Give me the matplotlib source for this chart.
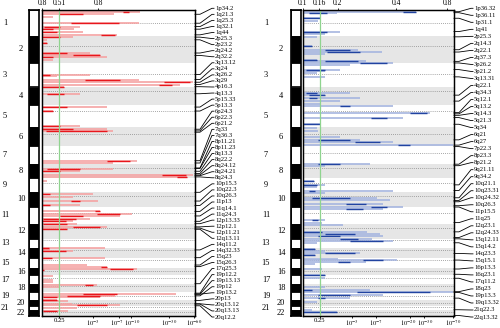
import numpy as np
import matplotlib.pyplot as plt
from matplotlib.lines import Line2D
from matplotlib.transforms import blended_transform_factory, ScaledTranslation

plt.rcParams['font.family'] = ['Liberation Serif', 'DejaVu Serif']
plt.rcParams['mathtext.fontset'] = 'stix'

W, H = 500, 328

# chromosome display lengths and centromere position (fraction of length)
chrom_len = [260, 270, 240, 190, 220, 190, 180, 140, 140, 150, 170,
             150, 100, 100, 100, 70, 90, 80, 80, 60, 40, 60]
centro_frac = [0.50, 0.38, 0.46, 0.26, 0.27, 0.35, 0.38, 0.31, 0.35, 0.30, 0.40,
               0.27, 0.16, 0.16, 0.18, 0.41, 0.30, 0.22, 0.45, 0.44, 0.27, 0.29]

# ---- left panel (red): chromosome, position, -log10 p, darker part
red_chrom = [1, 1, 1, 1, 1, 1, 1, 1, 2, 2, 2, 2, 2, 2, 2, 3, 3, 3, 3, 3, 4, 4,
             5, 5, 5, 6, 6, 7, 7, 8, 8, 8, 8, 9, 10, 10, 10, 10, 11, 11, 11, 11, 11,
             12, 12, 12, 13, 14, 14, 14, 15, 15, 16, 16, 17, 17, 17, 18, 18,
             19, 19, 19, 19, 20, 20, 20, 21, 22]
red_pos = [23, 43, 67, 133, 167, 193, 217, 250, 13, 40, 70, 173, 197, 217, 240,
           120, 137, 170, 197, 220, 2, 73, 17, 57, 207, 20, 37, 147, 170, 50, 73,
           110, 130, 27, 20, 53, 93, 137, 47, 70, 93, 120, 147, 1, 33, 57, 93, 15,
           30, 93, 67, 83, 3, 17, 10, 47, 70, 10, 33, 20, 37, 53, 77, 13, 37, 53, 17, 13]
red_top = [13.2, 6, 0.36, 13, 1.8, 1.4, 2.0, 6.6, 1.34, 0.14, 0.14, 2.7, 3.8, 4.8,
           0.36, 2.7, 0.5, 13, 59, 41, 0.8, 1.8, 4.8, 0.36, 1.8, 4.8, 5.8, 12, 5.8,
           5.8, 1.8, 59, 50, 0.14, 3, 1.34, 3.5, 1.8, 3.8, 10.4, 7.3, 2.7, 1.3, 1.6,
           4.8, 0.95, 4.5, 0.24, 1.3, 4.5, 2.4, 4.8, 12, 0.05, 0.35, 0.33, 0.33,
           3.4, 0.63, 37, 6.2, 3.8, 0.5, 1.0, 1.25, 7.3, 1.6, 1.0]
red_lo = [8, 0.6, 0, 1.2, 0.07, 0, 0, 4, 0, 0, 0, 0, 1.3, 0, 0, 0, 0, 2.2, 26, 23,
          0, 0.14, 0, 0, 0, 0, 0.1, 4.8, 0, 0.14, 0, 25, 38, 0, 0, 0, 1.2, 0, 3.2,
          3.4, 0.63, 0.03, 0, 0.03, 1.3, 0, 0, 0, 0, 0, 0, 4, 5.3, 0, 0, 0, 0, 2.2,
          0, 2, 0.95, 0.03, 0, 0, 0, 1.6, 0, 0.03]
red_hi = [9.5, 2, 0, 7, 0.63, 0.36, 0.5, 6.3, 0.63, 0, 0.14, 0.95, 3.8, 0.36, 0,
          0.25, 0, 7.3, 54, 33, 0.8, 0.8, 0.95, 0.36, 0.63, 1.34, 4.8, 9.8, 0, 1.8,
          0.63, 49, 50, 0, 0.25, 0, 1.8, 0.25, 3.8, 7.3, 2, 1.5, 0.9, 0.95, 3.8,
          0.95, 0.2, 0, 0.9, 0.3, 0, 4.8, 10.8, 0.05, 0, 0, 0, 3, 0, 6.6, 3.8, 0.5,
          0.5, 0, 0, 4.8, 0, 0.5]
red_bottom_p = [0.25, 1e-3, 1e-7, 1e-10, 1e-30, 1e-60]
red_bottom_lab = ['0.25', r'$10^{-3}$', r'$10^{-7}$', r'$10^{-10}$', r'$10^{-30}$', r'$10^{-60}$']
red_bottom_nudge = [0, 0, -1.2, 1.2, 0, 0]
red_top_at = [0, 0.6, 3.56]
red_top_lab = ['0.8', '0.51', '0.8']
red_loci = ['1p34.2', '1q21.3', '1q25.3', '1q32.1', '1q44', '2p25.3', '2p23.2', '2q24.2',
            '2q32.2', '3q13.12', '3q24', '3q26.2', '3q29', '4p16.3', '4q13.3', '5p15.33',
            '5p13.3', '6p24.3', '6p22.3', '6p21.2', '7q33', '7q36.3', '8p11.21', '8p11.23',
            '8q13.3', '8q22.2', '8q24.12', '8q24.21', '8q24.3', '10p15.3', '10q22.3',
            '10q26.3', '11p13', '11q14.1', '11q24.3', '12p13.33', '12p12.1', '12p11.21',
            '12q13.11', '14q11.2', '14q32.33', '15q23', '15q26.3', '17q25.3', '19p12.2',
            '19p13.13', '19p12', '19p13.2', '20p13', '20q13.12', '20q13.13', '20q12.2']
red_locus_chrom = [1, 1, 1, 1, 1, 2, 2, 2, 2, 3, 3, 3, 3, 4, 4, 5, 5, 6, 6, 6, 7, 7, 8, 8,
                   8, 8, 8, 8, 8, 10, 10, 10, 11, 11, 11, 12, 12, 12, 12, 14, 14, 15, 15,
                   17, 19, 19, 19, 19, 20, 20, 20, 20]
red_locus_pos = [43, 133, 167, 193, 250, 13, 40, 173, 197, 120, 170, 197, 220, 2, 73, 17,
                 57, 20, 37, 50, 147, 170, 40, 45, 73, 95, 110, 118, 130, 5, 93, 137, 47,
                 93, 147, 1, 33, 45, 57, 15, 93, 67, 83, 85, 10, 20, 37, 20, 3, 37, 40, 57]

# ---- right panel (blue)
blue_chrom = [1, 1, 1, 1, 1, 1, 2, 2, 2, 2, 2, 2, 2, 3, 3, 3, 3, 3, 3, 4, 4, 4, 4, 4,
              5, 5, 5, 5, 6, 6, 6, 6, 6, 6, 8, 8, 9, 9, 9, 9, 10, 10, 10, 10, 11, 11,
              11, 11, 12, 12, 12, 12, 13, 13, 13, 14, 14, 14, 14, 15, 15, 15, 15, 16,
              16, 17, 18, 18, 19, 19, 19, 20, 21, 22]
blue_pos = [17, 27, 83, 107, 217, 240, 10, 107, 140, 163, 183, 240, 257, 3, 27, 70,
            87, 103, 143, 63, 87, 113, 147, 180, 7, 73, 123, 190, 3, 37, 103, 127,
            153, 180, 2, 17, 27, 70, 93, 127, 13, 60, 87, 120, 3, 20, 137, 160, 10,
            83, 107, 127, 1, 23, 43, 2, 27, 50, 67, 2, 17, 33, 60, 7, 67, 30, 30, 57,
            3, 27, 60, 23, 37, 20]
blue_top = [24, 1.6, 0.62, 0.55, 1.86, 0.85, 0.47, 0.3, 3.8, 8.4, 0.85, 0.5, 5, 11.9,
            2.8, 1.9, 0.85, 0.47, 0.85, 2.8, 0.85, 4.1, 1.9, 0.6, 12, 36, 16, 0.6,
            0.47, 0.55, 1.9, 4, 12, 70, 5.7, 0.85, 0.35, 0.85, 0.47, 12, 0.85, 7.2,
            10.9, 8.7, 16, 8.7, 0.85, 0.7, 2.1, 5.2, 7.9, 8.7, 6.2, 12, 0.5, 0.4,
            0.85, 4, 0.4, 1.7, 13.4, 5, 0.4, 0.7, 0.85, 0.85, 0.85, 5.7, 70, 8.7, 2.8,
            0.47, 0.3, 1.6]
blue_lo = [16, 0.2, 0, 0, 0, 0, 0, 0, 0.85, 1, 0, 0, 0.85, 4, 0, 0.1, 0, 0, 0, 0.1,
           0.2, 0.2, 0, 0, 1.9, 20, 6, 0, 0, 0, 0, 0.55, 3.4, 14, 0.55, 0, 0, 0, 0,
           0.2, 0, 0.3, 0, 2.4, 6, 2.4, 0.3, 0, 0, 0, 0.85, 0.55, 1.9, 2.8, 0, 0, 0,
           0.85, 0, 0, 4.5, 1.7, 0, 0, 0, 0, 0, 0, 3.6, 0.55, 0.55, 0, 0, 0]
blue_hi = [24, 1.0, 0.62, 0, 1.0, 0, 0, 0.3, 2.8, 4, 0, 0.5, 3.8, 10, 0, 0.85, 0, 0,
           0, 0.5, 0.85, 0.5, 0, 0, 2.8, 33, 10, 0.6, 0, 0, 0, 2.8, 8, 20, 1.9, 0,
           0.35, 0.5, 0, 0.4, 0, 2.8, 0, 5, 10, 4.5, 0.55, 0, 0, 0.7, 3.4, 1.9, 3.8,
           8.7, 0, 0.4, 0, 3.4, 0.4, 0, 8.7, 2.8, 0, 0, 0.85, 0, 0, 0.3, 36, 2.8,
           0.85, 0, 0, 1.6]
blue_bottom_p = [0.25, 1e-3, 1e-7, 1e-20, 1e-30, 1e-70]
blue_bottom_lab = ['0.25', r'$10^{-3}$', r'$10^{-7}$', r'$10^{-20}$', r'$10^{-30}$', r'$10^{-70}$']
blue_bottom_nudge = [0, 0, 0, -1.2, 1.2, 0]
blue_top_at = [0, 0.58, 1.7, 13.1, 59]
blue_top_lab = ['0.1', '0.16', '0.2', '0.4', '0.8']
blue_loci = ['1p36.32', '1p36.11', '1p31.1', '1q41', '2p25.3', '2q14.3', '2q22.1', '2q37.3',
             '3p26.2', '3p21.2', '3q13.31', '4q22.1', '4q34.3', '5q12.1', '5q13.2', '5q14.3',
             '5q21.3', '5q34', '6q21', '6q27', '7p22.3', '8p23.3', '8p21.2', '9q21.11',
             '9q34.2', '10q21.1', '10q23.31', '10q24.32', '10q26.3', '11p15.5', '11q25',
             '12q23.1', '12q24.33', '13q12.11', '13q14.2', '14q23.3', '15q15.1', '16p13.3',
             '16q23.1', '17q11.2', '18q23', '19p13.3', '19q13.32', '21q22.3', '22q13.32']
blue_locus_chrom = [1, 1, 1, 1, 2, 2, 2, 2, 3, 3, 3, 4, 4, 5, 5, 5, 5, 5, 6, 6, 7, 8, 8,
                    9, 9, 10, 10, 10, 10, 11, 11, 12, 12, 13, 13, 14, 15, 16, 16, 17, 18,
                    19, 19, 21, 22]
blue_locus_pos = [17, 27, 83, 217, 10, 140, 163, 257, 3, 70, 143, 87, 147, 73, 85, 100,
                  123, 190, 127, 180, 5, 2, 17, 70, 127, 60, 87, 100, 140, 3, 160, 83,
                  140, 3, 43, 50, 17, 7, 60, 30, 75, 3, 60, 37, 55]

starts = np.concatenate([[0], np.cumsum(chrom_len)[:-1]])
total = sum(chrom_len)
TOP, BOT = 10, 316


def fwd(s):
    return np.log10(1 + np.asarray(s, dtype=float))


def inv(v):
    return 10 ** np.asarray(v, dtype=float) - 1


def gpos(chrom, pos):
    return starts[np.asarray(chrom) - 1] + np.asarray(pos, dtype=float)


def px_rect(x0, y0, x1, y1):
    return [x0 / W, 1 - y1 / H, (x1 - x0) / W, (y1 - y0) / H]


fig = plt.figure(figsize=(5, 3.28), dpi=100)


def panel(x_chrom, x0, x1, xmax, chrom, pos, top, lo, hi, light, dark,
          bp, blab, nudge, tat, tlab, loci, lchrom, lpos, lab_x, num_off):
    axc = fig.add_axes(px_rect(x_chrom, TOP, x_chrom + 10, BOT))
    axc.barh(starts, 1, height=chrom_len, left=0, align='edge',
             color=['white' if i % 2 == 0 else 'black' for i in range(22)],
             edgecolor='black', linewidth=0.6)
    axc.set_ylim(total, 0)
    axc.set_xlim(0, 1)
    axc.set_xticks([])
    axc.set_yticks([])
    for sp in axc.spines.values():
        sp.set_linewidth(1.2)
    tr = blended_transform_factory(fig.transFigure, axc.transData)
    for i in range(22):
        xo = num_off[0] if i % 2 == 0 else num_off[1]
        axc.text((x_chrom + xo) / W, starts[i] + chrom_len[i] / 2, str(i + 1),
                 transform=tr, ha='center', va='center', fontsize=6)

    ax = fig.add_axes(px_rect(x0, TOP, x1, BOT))
    ax.set_xscale('function', functions=(fwd, inv))
    ax.set_xlim(0, xmax)
    ax.set_ylim(total, 0)
    for i in range(1, 22, 2):
        ax.axhspan(starts[i], starts[i] + chrom_len[i], color='#e6e6e6', lw=0, zorder=0)
    cen = starts + np.array(centro_frac) * np.array(chrom_len)
    ax.hlines(cen, 0, xmax, colors='#8a8a8a', linestyles=(0, (1, 1.5)), lw=0.6, zorder=1)

    y = gpos(chrom, pos)
    ax.hlines(y, 0, top, colors=light, lw=1.2, zorder=2)
    lo = np.array(lo)
    hi = np.array(hi)
    m = hi > lo
    ax.hlines(y[m], lo[m], hi[m], colors=dark, lw=1.0, zorder=3)
    ax.axvline(-np.log10(0.25), color='#8fd48f', lw=0.9, zorder=4)

    ax.set_xticks(-np.log10(bp))
    ax.set_xticklabels(blab)
    ax.minorticks_off()
    ax.set_yticks([])
    ax.tick_params(axis='x', direction='out', length=1.2, width=0.6, labelsize=4.8, pad=0.3)
    for lab, dx in zip(ax.get_xticklabels(), nudge):
        lab.set_transform(lab.get_transform() + ScaledTranslation(dx / 72, 0, fig.dpi_scale_trans))
    for sp in ax.spines.values():
        sp.set_linewidth(0.9)

    axt = ax.twiny()
    axt.set_xscale('function', functions=(fwd, inv))
    axt.set_xlim(0, xmax)
    axt.set_xticks(tat)
    axt.set_xticklabels(tlab)
    axt.minorticks_off()
    axt.tick_params(axis='x', direction='out', length=1.5, width=0.6, labelsize=5.5, pad=0.5)
    for sp in axt.spines.values():
        sp.set_linewidth(0.9)

    # locus labels with connector lines
    ly = gpos(lchrom, lpos)
    disp = ax.transData.transform(np.column_stack([np.ones_like(ly), ly]))
    fy = fig.transFigure.inverted().transform(disp)[:, 1]
    ty = 1 - np.linspace(8.3, 317, len(loci)) / H
    for name, a, b in zip(loci, fy, ty):
        fig.add_artist(Line2D([x1 / W, (x1 + 5) / W, (lab_x - 3) / W, (lab_x - 1) / W],
                              [a, a, b, b], transform=fig.transFigure,
                              color='black', lw=0.6))
        fig.text(lab_x / W, b, name, ha='left', va='center', fontsize=4.8)


panel(29, 42, 195, 62, red_chrom, red_pos, red_top, red_lo, red_hi,
      '#f5a3a3', '#e8161c', red_bottom_p, red_bottom_lab, red_bottom_nudge,
      red_top_at, red_top_lab, red_loci, red_locus_chrom, red_locus_pos, 215, (-24, -8))
panel(291, 303, 454, 72, blue_chrom, blue_pos, blue_top, blue_lo, blue_hi,
      '#a6b5df', '#2143a0', blue_bottom_p, blue_bottom_lab, blue_bottom_nudge,
      blue_top_at, blue_top_lab, blue_loci, blue_locus_chrom, blue_locus_pos, 474, (-25, -10))

fig.savefig('out.png', dpi=100)
